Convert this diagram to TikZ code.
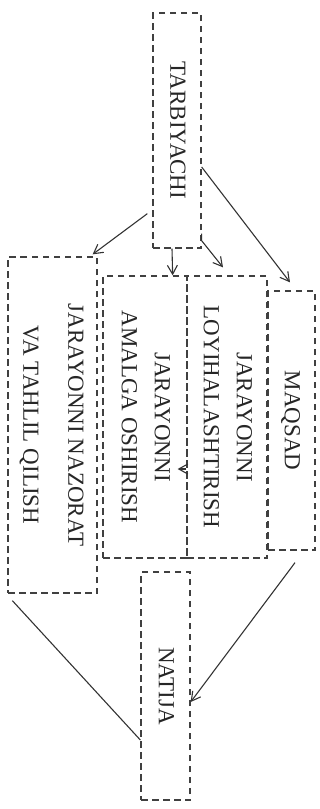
\documentclass[tikz,border=0pt]{standalone}
\usepackage{fontspec}
\setmainfont{Liberation Serif}
\usepackage{graphicx}
\usetikzlibrary{calc, arrows.meta}

\newcommand{\vtext}[1]{\rotatebox{-90}{\begin{tabular}{@{}c@{}}#1\end{tabular}}}

\begin{document}
\begin{tikzpicture}
        [x=1pt, y=-1pt,
        >={Straight Barb[length=9pt,width=10pt]},
        every node/.style={font=\fontsize{23}{33}\selectfont},
        box/.style={draw=black!75, dash pattern=on 6.5pt off 4.5pt,
          line width=1.3pt, inner sep=0pt, text=black!85},
        link/.style={draw=black!80, line width=1.1pt}]

    \useasboundingbox (0,0) rectangle (320,809);

    % boxes
    \node[box, minimum width=48pt, minimum height=235pt] (tarb) at (177,130.5)
      {\vtext{TARBIYACHI}};
    \node[box, minimum width=47pt, minimum height=259pt] (maqsad) at (291.5,420.5)
      {\vtext{MAQSAD}};
    \node[box, minimum width=80pt, minimum height=282pt] (loyiha) at (227,417)
      {\vtext{JARAYONNI\\LOYIHALASHTIRISH}};
    \node[box, minimum width=84pt, minimum height=282pt] (amalga) at (145,417)
      {\vtext{JARAYONNI\\AMALGA OSHIRISH}};
    \node[box, minimum width=89pt, minimum height=336pt] (nazorat) at (52.5,425)
      {\vtext{JARAYONNI NAZORAT\\[12pt]VA TAHLIL QILISH}};
    \node[box, minimum width=49pt, minimum height=228pt] (natija) at (165.5,686)
      {\vtext{NATIJA}};

    % connectors
    \draw[link,->] ($(tarb.south west)+(-5,-35)$) -- ($(nazorat.north east)+(-5,-2)$);
    \draw[link,->] ($(tarb.south)+(-5,0)$) -- ($(amalga.north east)+(-15,0)$);
    \draw[link,->] ($(tarb.south east)+(0,-15)$) -- ++(0,7) -- ($(loyiha.north)+(-4,-8)$);
    \draw[link,->] ($(tarb.east)+(0,36.5)$) -- ($(maqsad.north)+(-1.5,-8)$);
    \draw[link,->] ($(loyiha.west)+(0,52)$) -- ($(amalga.east)+(-10,52)$);
    \draw[link,->] ($(maqsad.south)+(3.5,12)$) -- ($(natija.east)+(0,16)$);
    \draw[link] ($(nazorat.south west)+(5,7)$) -- ($(natija.west)+(0,54)$);
\end{tikzpicture}
\end{document}
